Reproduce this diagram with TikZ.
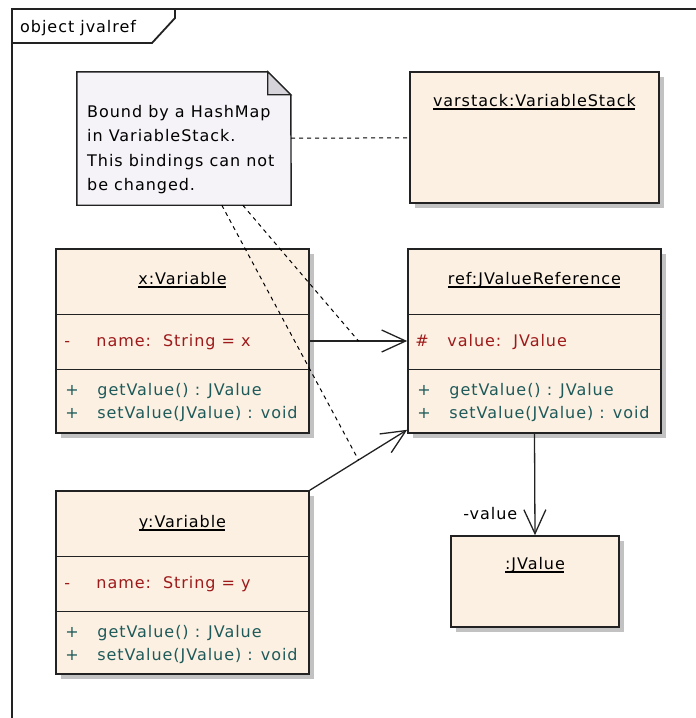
\documentclass[tikz,border=0pt]{standalone}
\usepackage{fontspec}
\setmainfont{DejaVu Sans}[LetterSpace=6]
\usetikzlibrary{arrows.meta,calc,shadows}

\definecolor{objfill}{HTML}{FBF0E2}
\definecolor{notefill}{HTML}{F5F3F8}
\definecolor{foldfill}{HTML}{D6D4DA}
\definecolor{attrred}{HTML}{9E1A1A}
\definecolor{opteal}{HTML}{1F5A5A}
\definecolor{linegray}{HTML}{222222}

\newsavebox{\namebox}
\newcommand{\objname}[1]{\sbox{\namebox}{#1}\rlap{\rule[-3.6pt]{\dimexpr\wd\namebox-1pt\relax}{1.4pt}}\usebox{\namebox}}
\newcommand{\member}[2]{\makebox[32pt][l]{#1}#2}

\begin{document}
\begin{tikzpicture}[x=1pt,y=-1pt,font=\fontsize{16}{19}\selectfont,
    object/.style={draw=linegray,line width=1.6pt,fill=objfill,inner sep=0pt,
      drop shadow={shadow xshift=5pt,shadow yshift=-5pt,fill=black!24,opacity=1}},
    divider/.style={draw=linegray,line width=1.4pt},
    attr/.style={anchor=base west,inner sep=0pt,text=attrred},
    oper/.style={anchor=base west,inner sep=0pt,text=opteal},
    assoc/.style={draw=linegray,line width=1.3pt,
      -{Straight Barb[length=24pt,width=22pt,line width=1.3pt]}},
    notelink/.style={draw=black,line width=1pt,dash pattern=on 4pt off 4pt},
    frame/.style={draw=linegray,line width=1.8pt}]

\useasboundingbox (0,0) rectangle (696,718);

% frame
\draw[frame] (12,718) -- (12,9) -- (696,9);
\draw[frame] (12,43) -- (152,43) -- (175,18) -- (175,9);
\node[anchor=base west,inner sep=0pt] (frametitle) at (20,32) {object jvalref};

% note
\node[minimum width=214pt,minimum height=133pt,inner sep=0pt] (note) at (184,138.5) {};
\draw[draw=linegray,line width=1.4pt,fill=notefill] (note.north west) -- ++(191,0) -- ++(23,23)
    -- (note.south east) -- (note.south west) -- cycle;
\draw[draw=linegray,line width=1.2pt,fill=foldfill] ($(note.north west)+(191,0)$) -- ++(0,23) -- ++(23,0) -- cycle;
\node[anchor=north west,inner sep=0pt,align=left,font=\fontsize{16}{24.5}\selectfont] (notetext) at (87,105)
    {Bound by a HashMap\\in VariableStack.\\This bindings can not\\be changed.};

% objects
\node[object,minimum width=249pt,minimum height=131pt] (varstack) at (534.5,137.5) {};
\node[object,minimum width=253pt,minimum height=184pt] (xvar) at (182.5,341) {};
\node[object,minimum width=253pt,minimum height=184pt] (ref) at (534.5,341) {};
\node[object,minimum width=253pt,minimum height=183pt] (yvar) at (182.5,582.5) {};
\node[object,minimum width=168pt,minimum height=91pt] (jvalue) at (535,581.5) {};

\node[anchor=base] (varstacktitle) at ($(varstack.north)+(0,35)$) {\objname{varstack:VariableStack}};
\node[anchor=base] (xvartitle) at ($(xvar.north)+(0,36)$) {\objname{x:Variable}};
\node[anchor=base] (reftitle) at ($(ref.north)+(0,36)$) {\objname{ref:JValueReference}};
\node[anchor=base] (yvartitle) at ($(yvar.north)+(0,37)$) {\objname{y:Variable}};
\node[anchor=base] (jvaluetitle) at ($(jvalue.north)+(0,34)$) {\objname{:JValue}};

\foreach \b in {xvar,ref,yvar} {
  \draw[divider] ($(\b.north west)+(0,66)$) -- ($(\b.north east)+(0,66)$);
  \draw[divider] ($(\b.north west)+(0,121)$) -- ($(\b.north east)+(0,121)$);
  \node[oper] (\b get) at ($(\b.north west)+(10,147)$) {\member{+}{getValue() : JValue}};
  \node[oper] (\b set) at ($(\b.north west)+(10,170)$) {\member{+}{setValue(JValue) : void}};
}

\node[attr] (xvarname) at ($(xvar.north west)+(9,98)$) {\member{-}{name:\ \ String = x}};
\node[attr] (refvalue) at ($(ref.north west)+(8,98)$) {\member{\#}{value:\ \ JValue}};
\node[attr] (yvarname) at ($(yvar.north west)+(9,98)$) {\member{-}{name:\ \ String = y}};

% links
\draw[assoc] (xvar.east) -- (ref.west) coordinate[pos=0.5] (xlink);
\draw[assoc] (yvar.north east) -- ($(ref.south west)+(0,-4)$) coordinate[pos=0.5] (ylink);
\draw[assoc] (ref.south) -- (jvalue.north)
    node[pos=0.79,anchor=east,inner sep=0pt,xshift=-17pt] (valuelabel) {-value};

\draw[notelink] (note) -- (varstack);
\draw[notelink] ($(note.south west)+(145,0)$) -- (ylink);
\draw[notelink] ($(note.south west)+(166,0)$) -- (xlink);
\end{tikzpicture}
\end{document}
